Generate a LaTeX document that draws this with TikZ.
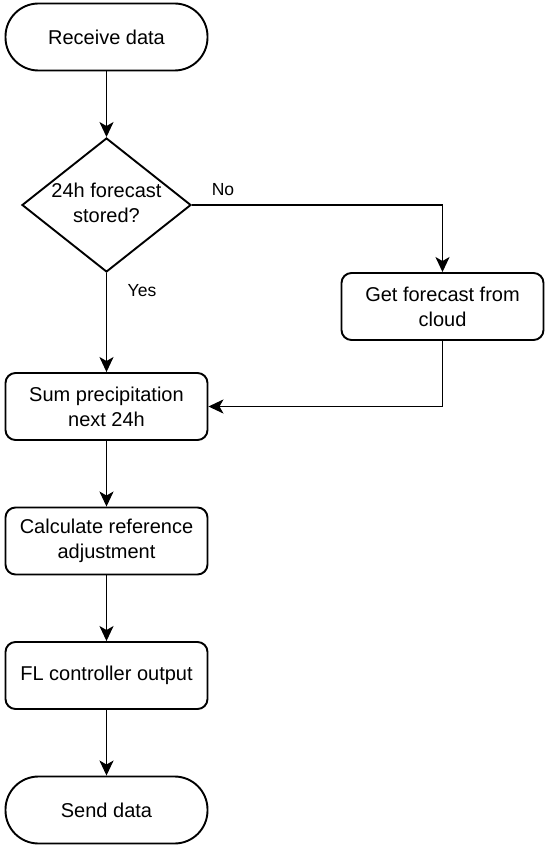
\documentclass[tikz,border=0pt]{standalone}
\usepackage{fontspec}
\setmainfont{Liberation Sans}
\usetikzlibrary{shapes.geometric,arrows.meta}
\begin{document}
\begin{tikzpicture}[x=1pt,y=-1pt,
  base/.style={draw=black,line width=1.9pt,fill=white,align=center,inner sep=0pt,
    font=\fontsize{20}{25}\selectfont},
  procbox/.style={base,rectangle,rounded corners=10pt,minimum width=202pt,minimum height=67pt},
  termbox/.style={base,rectangle,rounded corners=33pt,minimum width=202pt,minimum height=67pt},
  decbox/.style={base,diamond,minimum width=169pt,minimum height=134pt},
  lbl/.style={font=\fontsize{17.5}{21}\selectfont,inner sep=0pt},
  conn/.style={line width=1.9pt,-{Stealth[length=15pt,width=14pt,inset=4pt]}}]
\useasboundingbox (0,0) rectangle (550,850);
\node[termbox] (start) at (106.5,37) {Receive data};
\node[decbox] (dec) at (106.5,205) {};
\node[lbl,align=center,font=\fontsize{20}{25}\selectfont] (dectext) at (106.5,202.5) {24h forecast\\stored?};
\node[procbox] (cloud) at (442.5,306.5) {Get forecast from\\cloud};
\node[procbox] (sum) at (106.5,406.5) {Sum precipitation\\next 24h};
\node[procbox] (calc) at (106.5,541) {Calculate reference\\adjustment};
\node[procbox] (fl) at (106.5,675.5) {FL controller output};
\node[termbox] (send) at (106.5,810) {Send data};
\node[lbl] (no) at (223,190) {No};
\node[lbl] (yes) at (142,291) {Yes};
\draw[conn] (start) -- (dec);
\draw[conn] (dec.east) -| (cloud.north);
\draw[conn] (dec.south) -- (sum.north);
\draw[conn] (cloud.south) |- (sum.east);
\draw[conn] (sum) -- (calc);
\draw[conn] (calc) -- (fl);
\draw[conn] (fl) -- (send);
\end{tikzpicture}
\end{document}
